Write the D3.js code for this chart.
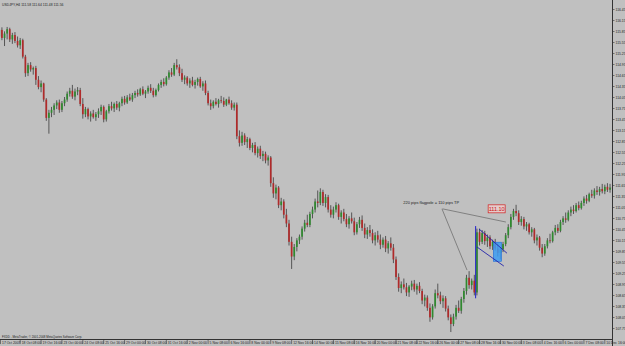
<!DOCTYPE html>
<html>
<head>
<meta charset="utf-8">
<script src="https://cdn.jsdelivr.net/npm/d3@7"></script>
<style>
body { margin: 0; background: #c0c0c0; }
svg { display: block; font-family: "Liberation Sans", Arial, sans-serif; }
</style>
</head>
<body>
<script>
// H4 candles, [open, high, low, close]
const candles = [
[115.70,115.98,115.48,115.88],[115.88,115.95,115.60,115.66],[115.66,115.84,115.44,115.78],[115.78,115.96,115.62,115.90],
[115.90,115.94,115.55,115.62],[115.62,115.80,115.50,115.74],[115.74,115.82,115.52,115.58],[115.58,115.70,115.40,115.46],
[115.46,115.66,115.36,115.60],[115.60,115.64,115.10,115.15],[115.15,115.20,114.60,114.70],[114.70,114.98,114.62,114.92],
[114.92,115.00,114.74,114.80],[114.80,114.88,114.66,114.84],[114.84,114.90,114.38,114.52],[114.52,114.62,114.26,114.32],
[114.32,114.50,114.18,114.42],[114.42,114.44,113.92,113.98],[113.98,114.02,113.40,113.48],[113.48,113.70,113.05,113.62],
[113.62,113.78,113.50,113.70],[113.70,113.88,113.56,113.82],[113.82,113.96,113.72,113.90],[113.90,113.98,113.62,113.70],
[113.70,113.94,113.64,113.88],[113.88,114.05,113.80,113.98],[113.98,114.20,113.92,114.14],[114.14,114.30,114.06,114.22],
[114.22,114.38,114.00,114.06],[114.06,114.28,113.96,114.20],[114.20,114.32,114.10,114.24],[114.24,114.30,113.80,113.86],
[113.86,114.02,113.46,113.58],[113.58,113.78,113.50,113.72],[113.72,113.76,113.44,113.52],[113.52,113.66,113.38,113.60],
[113.60,113.70,113.46,113.50],[113.50,113.64,113.40,113.58],[113.58,113.74,113.48,113.66],[113.66,113.84,113.56,113.78],
[113.78,113.82,113.36,113.44],[113.44,113.70,113.38,113.66],[113.66,113.86,113.60,113.80],[113.80,113.92,113.68,113.74],
[113.74,113.90,113.64,113.86],[113.86,113.94,113.70,113.76],[113.76,113.92,113.66,113.88],[113.88,114.06,113.80,114.00],
[114.00,114.08,113.84,113.90],[113.90,114.10,113.86,114.04],[114.04,114.14,113.94,113.98],[113.98,114.16,113.92,114.10],
[114.10,114.22,114.02,114.16],[114.16,114.26,114.06,114.12],[114.12,114.30,114.08,114.26],[114.26,114.34,114.10,114.14],
[114.14,114.24,114.02,114.20],[114.20,114.36,114.14,114.30],[114.30,114.40,114.16,114.22],[114.22,114.30,114.04,114.10],
[114.10,114.28,114.06,114.24],[114.24,114.42,114.20,114.38],[114.38,114.52,114.30,114.46],[114.46,114.56,114.34,114.40],
[114.40,114.62,114.36,114.58],[114.58,114.78,114.52,114.72],[114.72,114.84,114.60,114.66],[114.66,114.98,114.62,114.92],
[114.92,115.08,114.80,114.86],[114.86,114.94,114.62,114.70],[114.70,114.82,114.46,114.52],[114.52,114.64,114.40,114.58],
[114.58,114.62,114.36,114.42],[114.42,114.56,114.30,114.50],[114.50,114.60,114.34,114.38],[114.38,114.52,114.28,114.46],
[114.46,114.58,114.36,114.54],[114.54,114.60,114.30,114.34],[114.34,114.48,114.22,114.42],[114.42,114.50,114.10,114.16],
[114.16,114.22,113.82,113.88],[113.88,113.98,113.70,113.80],[113.80,113.96,113.74,113.92],[113.92,114.02,113.82,113.86],
[113.86,114.00,113.76,113.96],[113.96,114.08,113.88,113.94],[113.94,114.04,113.78,113.84],[113.84,114.00,113.80,113.98],
[113.98,114.06,113.84,113.88],[113.88,113.96,113.70,113.76],[113.76,113.90,113.68,113.84],[113.84,113.90,112.90,112.98],
[112.98,113.14,112.70,112.80],[112.80,113.10,112.72,113.00],[113.00,113.06,112.74,112.82],[112.82,112.96,112.66,112.90],
[112.90,112.94,112.60,112.66],[112.66,112.80,112.54,112.74],[112.74,112.82,112.46,112.52],[112.52,112.70,112.40,112.64],
[112.64,112.72,112.36,112.44],[112.44,112.58,112.30,112.50],[112.50,112.56,112.24,112.32],[112.32,112.46,112.18,112.40],
[112.40,112.44,111.60,111.70],[111.70,111.86,111.30,111.42],[111.42,111.66,111.26,111.58],[111.58,111.62,111.02,111.10],
[111.10,111.30,110.96,111.20],[111.20,111.26,110.74,110.84],[110.84,111.00,110.50,110.60],[110.60,110.70,110.00,110.10],
[110.10,110.24,109.36,109.70],[109.70,110.04,109.60,109.96],[109.96,110.20,109.84,110.14],[110.14,110.30,110.04,110.24],
[110.24,110.52,110.16,110.46],[110.46,110.70,110.38,110.62],[110.62,110.84,110.50,110.56],[110.56,110.92,110.50,110.86],
[110.86,111.06,110.74,110.98],[110.98,111.28,110.90,111.20],[111.20,111.50,111.04,111.16],[111.16,111.56,111.10,111.46],
[111.46,111.52,111.08,111.16],[111.16,111.40,111.04,111.32],[111.32,111.38,110.90,110.98],[110.98,111.10,110.76,110.84],
[110.84,111.06,110.74,110.98],[110.98,111.18,110.90,111.10],[111.10,111.14,110.70,110.78],[110.78,110.96,110.60,110.90],
[110.90,111.00,110.66,110.72],[110.72,110.86,110.50,110.58],[110.58,110.80,110.46,110.74],[110.74,110.90,110.60,110.66],
[110.66,110.76,110.28,110.36],[110.36,110.64,110.30,110.58],[110.58,110.78,110.48,110.70],[110.70,110.82,110.40,110.48],
[110.48,110.60,110.20,110.30],[110.30,110.50,110.18,110.42],[110.42,110.56,110.24,110.34],[110.34,110.44,110.06,110.14],
[110.14,110.36,110.00,110.28],[110.28,110.40,110.08,110.16],[110.16,110.30,109.90,110.02],[110.02,110.22,109.94,110.16],
[110.16,110.26,109.82,109.92],[109.92,110.12,109.78,110.06],[110.06,110.22,109.86,109.94],[109.94,110.04,109.52,109.62],
[109.62,109.70,109.06,109.14],[109.14,109.24,108.74,108.84],[108.84,109.02,108.70,108.94],[108.94,109.10,108.80,108.86],
[108.86,108.98,108.62,108.72],[108.72,108.92,108.60,108.88],[108.88,109.04,108.78,108.96],[108.96,109.06,108.74,108.80],
[108.80,108.96,108.66,108.90],[108.90,109.00,108.70,108.76],[108.76,108.82,108.40,108.50],[108.50,108.66,108.34,108.58],
[108.58,108.64,108.22,108.30],[108.30,108.42,107.92,108.04],[108.04,108.40,107.98,108.34],[108.34,108.80,108.28,108.70],
[108.70,108.96,108.56,108.64],[108.64,108.74,108.40,108.48],[108.48,108.64,108.30,108.56],[108.56,108.62,108.20,108.28],
[108.28,108.36,107.96,108.04],[108.04,108.12,107.64,107.86],[107.86,108.14,107.80,108.06],[108.06,108.38,107.98,108.30],
[108.30,108.50,108.16,108.22],[108.22,108.60,108.14,108.54],[108.54,108.84,108.44,108.76],[108.76,109.20,108.66,109.12],
[109.12,109.30,108.82,108.92],[108.92,109.10,108.80,109.04],[109.04,109.20,108.64,108.72],[108.72,110.46,108.64,110.36],
[110.36,110.46,110.00,110.10],[110.10,110.42,110.04,110.34],[110.34,110.40,110.02,110.12],[110.12,110.30,109.96,110.22],
[110.22,110.28,109.90,109.98],[109.98,110.16,109.88,110.10],[110.10,110.18,109.86,109.92],[109.92,110.06,109.70,109.80],
[109.80,109.96,109.62,109.90],[109.90,110.10,109.82,110.04],[110.04,110.34,109.98,110.28],[110.28,110.58,110.20,110.50],
[110.50,110.86,110.44,110.78],[110.78,111.00,110.70,110.94],[110.94,111.11,110.80,110.88],[110.88,110.96,110.56,110.64],
[110.64,110.80,110.54,110.72],[110.72,110.78,110.44,110.52],[110.52,110.64,110.40,110.58],[110.58,110.62,110.30,110.36],
[110.36,110.50,110.24,110.44],[110.44,110.48,110.06,110.14],[110.14,110.30,110.00,110.22],[110.22,110.26,109.86,109.94],
[109.94,110.04,109.68,109.78],[109.78,110.04,109.72,109.98],[109.98,110.20,109.92,110.14],[110.14,110.32,110.06,110.12],
[110.12,110.40,110.08,110.36],[110.36,110.56,110.28,110.48],[110.48,110.58,110.34,110.40],[110.40,110.70,110.36,110.64],
[110.64,110.80,110.56,110.74],[110.74,110.90,110.62,110.70],[110.70,110.96,110.66,110.90],[110.90,111.06,110.80,110.98],
[110.98,111.10,110.86,110.94],[110.94,111.16,110.90,111.10],[111.10,111.20,110.96,111.02],[111.02,111.22,110.98,111.16],
[111.16,111.34,111.08,111.28],[111.28,111.38,111.14,111.22],[111.22,111.44,111.18,111.40],[111.40,111.52,111.30,111.36],
[111.36,111.56,111.28,111.50],[111.50,111.62,111.38,111.46],[111.46,111.60,111.36,111.54],[111.54,111.68,111.42,111.48],
[111.48,111.66,111.40,111.60],[111.60,111.70,111.46,111.52],[111.52,111.68,111.44,111.58],[111.58,111.64,111.48,111.56]
];

const priceTicks = [116.45,116.15,115.85,115.55,115.25,114.95,114.65,114.35,114.05,113.75,113.45,113.15,112.85,112.55,112.25,
  111.95,111.65,111.35,111.05,110.75,110.45,110.15,109.85,109.55,109.25,108.95,108.65,108.35,108.05,107.75];

// one label every 8 bars
const timeLabels = ["17 Oct 2007","18 Oct 08:00","19 Oct 16:00","23 Oct 00:00","24 Oct 08:00","25 Oct 16:00",
  "29 Oct 00:00","30 Oct 08:00","31 Oct 16:00","2 Nov 00:00","5 Nov 08:00","6 Nov 16:00","8 Nov 00:00",
  "9 Nov 08:00","12 Nov 16:00","14 Nov 00:00","15 Nov 08:00","16 Nov 16:00","20 Nov 00:00","21 Nov 08:00",
  "22 Nov 16:00","26 Nov 00:00","27 Nov 08:00","28 Nov 16:00","30 Nov 00:00","3 Dec 08:00","4 Dec 16:00",
  "6 Dec 00:00","7 Dec 08:00","10 Dec 16:00"];

const symbol = "USDJPY,H4";
const footer = "FXDD - MetaTrader, \u00a9 2001-2008 MetaQuotes Software Corp.";

// drawn objects, in bar index / price units
const flagpole = [182.5, 108.56, 110.53];
const flagLines = [[183.8, 110.45, 194.5, 109.79], [183.0, 109.96, 193.3, 109.44]];
const flagBox = [189.3, 110.09, 192.4, 109.57];
const note = {bar: 154.8, price: 111.13, text: "220 pips flagpole = 110 pips TP"};
const noteLines = [[169.6, 111.00, 179.2, 109.33], [169.8, 111.00, 194.1, 110.64]];
const priceLabel = {bar: 187.3, price: 111.00, text: "111.10"};

const W = 625, H = 346, plotW = 612, plotH = 339;

const svg = d3.select("body").append("svg")
    .attr("width", W)
    .attr("height", H);

svg.append("rect").attr("width", W).attr("height", H).attr("fill", "#c0c0c0");

const x = d3.scaleBand()
    .domain(d3.range(candles.length))
    .range([-2, -2 + candles.length * 2.61]);
const cx = i => x(i) + x.bandwidth() / 2;
const xf = d3.scaleLinear().domain([0, 1]).range([cx(0), cx(1)]); // fractional bars

const y = d3.scaleLinear()
    .domain([priceTicks[0], priceTicks[priceTicks.length - 1]])
    .range([9, 328]);

svg.append("clipPath").attr("id", "clip")
  .append("rect").attr("width", plotW).attr("height", plotH);

const g = svg.append("g").attr("clip-path", "url(#clip)");

const c = g.selectAll(".candle")
  .data(candles)
  .enter().append("g");

c.append("line")
    .attr("x1", (d, i) => cx(i))
    .attr("x2", (d, i) => cx(i))
    .attr("y1", d => y(d[1]))
    .attr("y2", d => y(d[2]))
    .attr("stroke", "#3a3a3a")
    .attr("stroke-width", 0.8);

c.append("rect")
    .attr("x", (d, i) => cx(i) - 0.85)
    .attr("width", 1.7)
    .attr("y", d => y(Math.max(d[0], d[3])))
    .attr("height", d => Math.max(0.8, Math.abs(y(d[0]) - y(d[3]))))
    .attr("fill", d => d[3] >= d[0] ? "#2f8a2f" : "#b02a2a");

// flag pattern objects
g.append("rect")
    .attr("x", xf(flagBox[0]))
    .attr("y", y(flagBox[1]))
    .attr("width", xf(flagBox[2]) - xf(flagBox[0]))
    .attr("height", y(flagBox[3]) - y(flagBox[1]))
    .attr("fill", "#3c9cf2")
    .attr("fill-opacity", 0.85)
    .attr("stroke", "#1e6ad8")
    .attr("stroke-width", 0.6);

g.append("line")
    .attr("x1", xf(flagpole[0])).attr("x2", xf(flagpole[0]))
    .attr("y1", y(flagpole[1])).attr("y2", y(flagpole[2]))
    .attr("stroke", "#2222cc").attr("stroke-width", 1);

g.selectAll(".flag")
  .data(flagLines)
  .enter().append("line")
    .attr("x1", d => xf(d[0])).attr("y1", d => y(d[1]))
    .attr("x2", d => xf(d[2])).attr("y2", d => y(d[3]))
    .attr("stroke", "#2222aa").attr("stroke-width", 0.9);

g.selectAll(".noteLine")
  .data(noteLines)
  .enter().append("line")
    .attr("x1", d => xf(d[0])).attr("y1", d => y(d[1]))
    .attr("x2", d => xf(d[2])).attr("y2", d => y(d[3]))
    .attr("stroke", "#555").attr("stroke-width", 0.6);

g.append("text")
    .attr("x", xf(note.bar))
    .attr("y", y(note.price))
    .attr("font-size", 4)
    .attr("fill", "#222")
    .text(note.text);

const pl = g.append("g")
    .attr("transform", `translate(${xf(priceLabel.bar)},${y(priceLabel.price)})`);
pl.append("rect")
    .attr("x", 0).attr("y", -4).attr("width", 17).attr("height", 8)
    .attr("fill", "#e4cccc").attr("stroke", "#d02020").attr("stroke-width", 0.7);
pl.append("text")
    .attr("x", 8.5).attr("y", 2)
    .attr("text-anchor", "middle")
    .attr("font-size", 5.5)
    .attr("fill", "#cc1010")
    .text(priceLabel.text);

// header and footer
svg.append("text")
    .attr("x", 2).attr("y", 6)
    .attr("font-size", 3.4)
    .attr("fill", "#222")
    .text(`${symbol} ${candles[candles.length - 1].map(v => v.toFixed(2)).join(" ")}`);

svg.append("text")
    .attr("x", 2).attr("y", 337.5)
    .attr("font-size", 2.9)
    .attr("fill", "#222")
    .text(footer);

// price axis
const yAxis = svg.append("g")
    .attr("transform", `translate(${plotW + 0.5},0)`)
    .call(d3.axisRight(y).tickValues(priceTicks).tickSize(2).tickPadding(1).tickFormat(d3.format(".2f")));
yAxis.select(".domain").remove();
yAxis.selectAll("line").attr("stroke", "#333").attr("stroke-width", 0.6);
yAxis.selectAll("text").attr("font-size", 3.4).attr("fill", "#222").attr("font-family", null);

svg.append("line")
    .attr("x1", plotW + 0.5).attr("x2", plotW + 0.5)
    .attr("y1", 0).attr("y2", H)
    .attr("stroke", "#333").attr("stroke-width", 1);

// time axis
svg.append("line")
    .attr("x1", 0).attr("x2", plotW)
    .attr("y1", plotH + 0.5).attr("y2", plotH + 0.5)
    .attr("stroke", "#333").attr("stroke-width", 1);

const tl = svg.selectAll(".tl")
  .data(timeLabels)
  .enter().append("g")
    .attr("transform", (d, k) => `translate(${Math.max(0.5, cx(k * 8))},${plotH})`);
tl.append("line")
    .attr("y1", 0).attr("y2", 5)
    .attr("stroke", "#333").attr("stroke-width", 0.6);
tl.append("text")
    .attr("x", 1.5).attr("y", 5)
    .attr("font-size", 3.4)
    .attr("fill", "#222")
    .text(d => d);
</script>
</body>
</html>
